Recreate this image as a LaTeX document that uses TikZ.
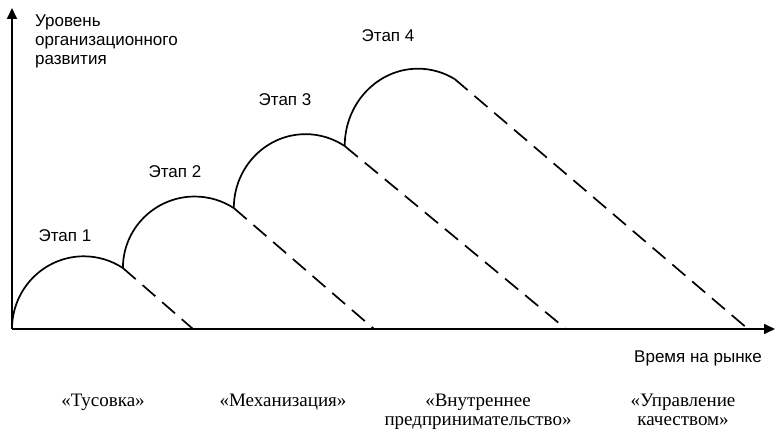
\documentclass[tikz,border=0pt]{standalone}
\usepackage{fontspec}
\setmainfont{Liberation Serif}
\setsansfont{Liberation Sans}
\usetikzlibrary{arrows.meta}

\begin{document}
\begin{tikzpicture}[x=1pt, y=1pt, line join=round,
  axis/.style={line width=1.7pt, -{Triangle[length=11pt,width=10pt]}},
  hump/.style={line width=1.7pt},
  decline/.style={line width=1.7pt, dash pattern=on 17pt off 9pt},
  stagelbl/.style={font=\sffamily\fontsize{17}{19}\selectfont, inner sep=0pt},
  phaselbl/.style={font=\rmfamily\fontsize{19}{19}\selectfont, align=center, inner sep=0pt, anchor=north}]
\useasboundingbox (0,0) rectangle (775,430);
% axes
\coordinate (o) at (12,101);
\coordinate (ytop) at (12,422);
\coordinate (xend) at (775,101);
\draw[axis] (o) -- (ytop);
\draw[axis] (o) -- (xend);
\node[stagelbl, align=left, anchor=north west] (ylbl) at (35,415) {Уровень\\организационного\\развития};
\node[stagelbl, anchor=base] (xlbl) at (698,67) {Время на рынке};
% humps
\draw[hump] (o) arc[start angle=180, end angle=57, x radius=71.8, y radius=72.7] coordinate (e1);
\draw[hump] (e1) arc[start angle=180, end angle=57, x radius=71.8, y radius=71.5] coordinate (e2);
\draw[hump] (e2) arc[start angle=180, end angle=57, x radius=71.8, y radius=73.9] coordinate (e3);
\draw[hump] (e3) arc[start angle=180, end angle=60, x radius=73.3, y radius=77.4] coordinate (e4);
% declines to the time axis
\coordinate (f1) at (193,101);
\coordinate (f2) at (374,101);
\coordinate (f3) at (566,101);
\coordinate (f4) at (748,101);
\draw[decline] (e1) -- (f1);
\draw[decline] (e2) -- (f2);
\draw[decline] (e3) -- (f3);
\draw[decline] (e4) -- (f4);
% stage labels
\node[stagelbl, anchor=base] (st1) at (65,188) {Этап 1};
\node[stagelbl, anchor=base] (st2) at (175,252) {Этап 2};
\node[stagelbl, anchor=base] (st3) at (285,324) {Этап 3};
\node[stagelbl, anchor=base] (st4) at (388,388) {Этап 4};
% phase names
\node[phaselbl] (ph1) at (103,36) {«Тусовка»};
\node[phaselbl] (ph2) at (283,36) {«Механизация»};
\node[phaselbl] (ph3) at (478,36) {«Внутреннее\\предпринимательство»};
\node[phaselbl] (ph4) at (683,36) {«Управление\\качеством»};
\end{tikzpicture}
\end{document}
